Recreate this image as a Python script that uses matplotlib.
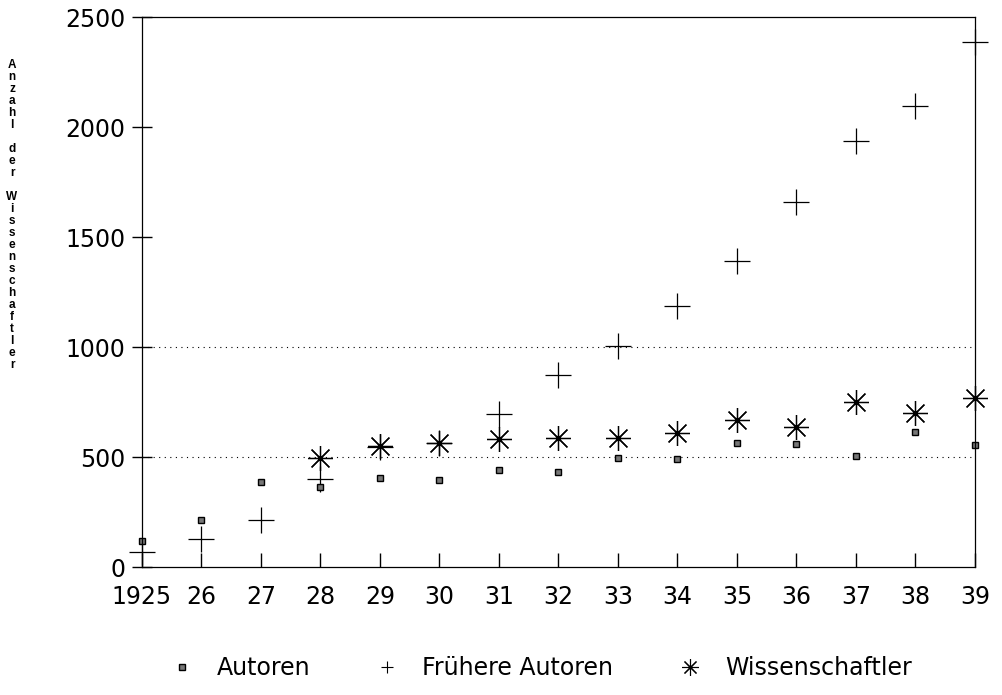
import numpy as np
import matplotlib
matplotlib.use("Agg")
import matplotlib.pyplot as plt
from matplotlib.lines import Line2D

plt.rcParams['font.family'] = ['DejaVu Sans']

# Jahre und Werte
jahre = [1925, 1926, 1927, 1928, 1929, 1930, 1931, 1932, 1933, 1934, 1935, 1936, 1937, 1938, 1939]
tick_labels = ['1925', '26', '27', '28', '29', '30', '31', '32', '33', '34', '35', '36', '37', '38', '39']
autoren = [120, 213, 386, 364, 405, 395, 441, 432, 495, 490, 564, 559, 504, 614, 555]
fruehere = [68, 127, 213, 400, 545, 565, 695, 872, 1005, 1186, 1391, 1659, 1936, 2095, 2386]
wiss_jahre = [1928, 1929, 1930, 1931, 1932, 1933, 1934, 1935, 1936, 1937, 1938, 1939]
wissenschaftler = [495, 550, 564, 582, 586, 586, 609, 668, 636, 750, 700, 768]

fig = plt.figure(figsize=(10.02, 6.95), dpi=100)
ax = fig.add_axes([0.1417, 0.184, 0.8313, 0.7915])

"""Gitterlinien bei 500 und 1000"""
for y in [500, 1000]:
    ax.axhline(y, color='black', lw=0.8, ls=(0, (1, 4)), zorder=0)

ax.plot(jahre, fruehere, ls='none', marker='+', ms=19, mew=0.9, color='black', clip_on=False)
ax.plot(wiss_jahre, wissenschaftler, ls='none', marker=(8, 2, 0), ms=18, mew=0.9, color='black', clip_on=False)
ax.plot(wiss_jahre, wissenschaftler, ls='none', marker='o', ms=3, color='black', clip_on=False)
ax.plot(jahre, autoren, ls='none', marker='s', ms=4.5, mfc='#777777', mec='black', mew=1.0, clip_on=False)

ax.set_xlim(1925, 1939)
ax.set_ylim(0, 2500)
ax.set_xticks(jahre)
ax.set_xticklabels(tick_labels)
ax.set_yticks([0, 500, 1000, 1500, 2000, 2500])
ax.tick_params(axis='x', direction='in', length=10, width=1, labelsize=17, pad=13)
ax.tick_params(axis='y', direction='inout', length=14, width=1, labelsize=17, pad=5)
for s in ax.spines.values():
    s.set_linewidth(0.9)

"""Achsenbeschriftung, Buchstaben untereinander"""
ylabel = 'Anzahl der Wissenschaftler'
fig.text(0.012, 0.915, '\n'.join(ylabel), ha='center', va='top', fontsize=8.5,
         family='Liberation Sans', fontweight='bold', linespacing=1.0)

handles = [
    Line2D([], [], ls='none', marker='s', ms=4, mfc='#777777', mec='black'),
    Line2D([], [], ls='none', marker='+', ms=8, mew=0.8, color='black'),
    Line2D([], [], ls='none', marker=(8, 2, 0), ms=12, mew=0.8, color='black'),
]
fig.legend(handles, ['Autoren', 'Frühere Autoren', 'Wissenschaftler'], loc='center',
           bbox_to_anchor=(0.54, 0.039), ncol=3, frameon=False, fontsize=17,
           handlelength=1.0, handletextpad=0.98, columnspacing=2.76)

fig.savefig('out.png', dpi=100)
